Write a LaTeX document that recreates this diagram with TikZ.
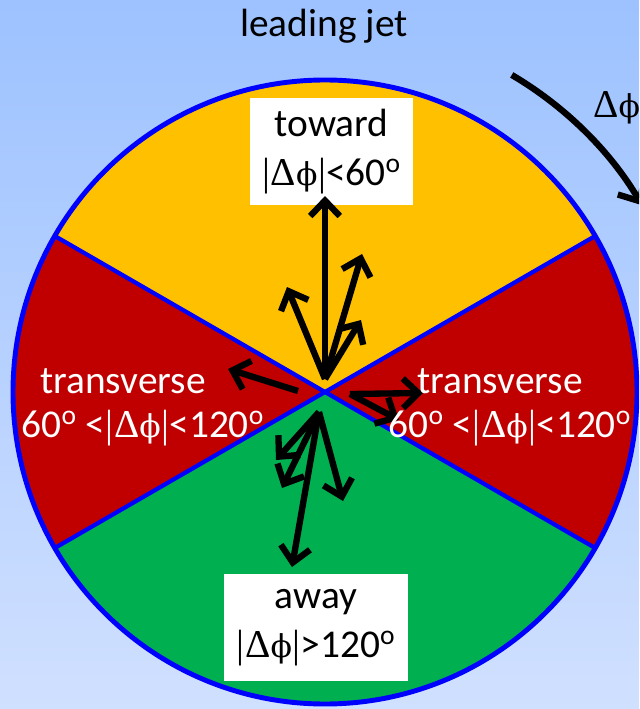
\documentclass[tikz,border=0pt]{standalone}
\usepackage{fontspec}
\setmainfont{Carlito}
\newfontfamily\grkfont{Liberation Serif}
\newfontfamily\phifont[Scale=0.8]{DejaVu Serif}
\usetikzlibrary{positioning,arrows.meta}
\usepackage{xcolor}
\definecolor{bgtop}{RGB}{157,194,255}
\definecolor{bgbot}{RGB}{208,224,255}
\definecolor{towardcol}{RGB}{255,192,0}
\definecolor{transcol}{RGB}{192,0,0}
\definecolor{awaycol}{RGB}{0,176,80}
\newcommand{\dphi}{{\grkfont|\kern0.5pt Δ}{\phifont ϕ}{\grkfont\kern0.5pt|}}
\newcommand{\dg}{\textsuperscript{o}}

\begin{document}
\begin{tikzpicture}[
        x=0.025cm, y=-0.025cm,
        every node/.style={font=\fontsize{28}{35}\selectfont},
        divider/.style={draw=blue, line width=3pt},
        rim/.style={draw=blue, line width=3.5pt},
        labelbox/.style={fill=white, align=center, minimum width=4.075cm, minimum height=2.675cm, inner sep=0pt},
        translabel/.style={text=white, inner sep=0pt, anchor=base},
        jet/.style={-{Straight Barb[length=11pt, width=21pt]}, line width=4.5pt, black},
        turn/.style={-{Straight Barb[length=12pt, width=22pt]}, line width=4.5pt, black}
    ]
        \useasboundingbox (0,0) rectangle (639,709);
        \clip (0,0) rectangle (639,709);
        \shade[top color=bgtop, bottom color=bgbot] (0,0) rectangle (639,709);

        % Sectors of the circle
        \coordinate (c) at (325,392);
        \fill[towardcol] (c) -- ++(-30:312) arc[start angle=-30, end angle=-150, radius=312] -- cycle;
        \fill[transcol] (c) -- ++(-150:312) arc[start angle=-150, end angle=-210, radius=312] -- cycle;
        \fill[awaycol] (c) -- ++(150:312) arc[start angle=150, end angle=30, radius=312] -- cycle;
        \fill[transcol] (c) -- ++(30:312) arc[start angle=30, end angle=-30, radius=312] -- cycle;
        \foreach \a in {30,150,-30,-150}
            \draw[divider] (c) -- ++(\a:312);
        \draw[rim] (c) circle[radius=312];

        % Region labels in white boxes
        \node[labelbox] (toward) at (331.5,151.5) {toward\\\dphi<60\dg};
        \node[labelbox, minimum width=4.6cm] (away) at (316,627.5) {away\\\dphi>120\dg};

        % Jets in the toward region
        \coordinate (ot) at (325,379);
        \coordinate (t1) at (325,196);
        \coordinate (t2) at (287,287);
        \coordinate (t3) at (362,254);
        \coordinate (t4) at (361,320);
        \foreach \t in {t1,t2,t3,t4}
            \draw[jet] (ot) -- (\t);

        % Jets in the transverse regions
        \coordinate (ol) at (298,391);
        \coordinate (l1) at (228,369);
        \draw[jet] (ol) -- (l1);
        \coordinate (or) at (350,394);
        \coordinate (r1) at (423,393);
        \coordinate (r2) at (399,420);
        \draw[jet] (or) -- (r1);
        \draw[jet] (or) -- (r2);

        % Jets in the away region
        \coordinate (oa) at (319,412);
        \coordinate (a1) at (292,567);
        \coordinate (a2) at (343,501);
        \coordinate (a3) at (276,460);
        \coordinate (a4) at (282,488);
        \foreach \t in {a1,a2,a3,a4}
            \draw[jet] (oa) -- (\t);

        % Transverse labels, one line per node
        \node[translabel] (transL) at (123,393) {transverse};
        \node[translabel] (rangeL) at (143,437) {60\dg{} <\dphi<120\dg};
        \node[translabel] (transR) at (500,393) {transverse};
        \node[translabel] (rangeR) at (510,437) {60\dg{} <\dphi<120\dg};

        % Leading jet and the turning angle
        \node[anchor=base] (lead) at (324,37) {leading jet};
        \coordinate (arcstart) at ([shift={(-59.5:368)}]c);
        \draw[turn] (arcstart) arc[start angle=-59.5, end angle=-30.5, radius=368];
        \node[anchor=base west, inner sep=0pt] (dphitop) at (593,118) {{\grkfont Δ}{\phifont ϕ}};

    \end{tikzpicture}
\end{document}
